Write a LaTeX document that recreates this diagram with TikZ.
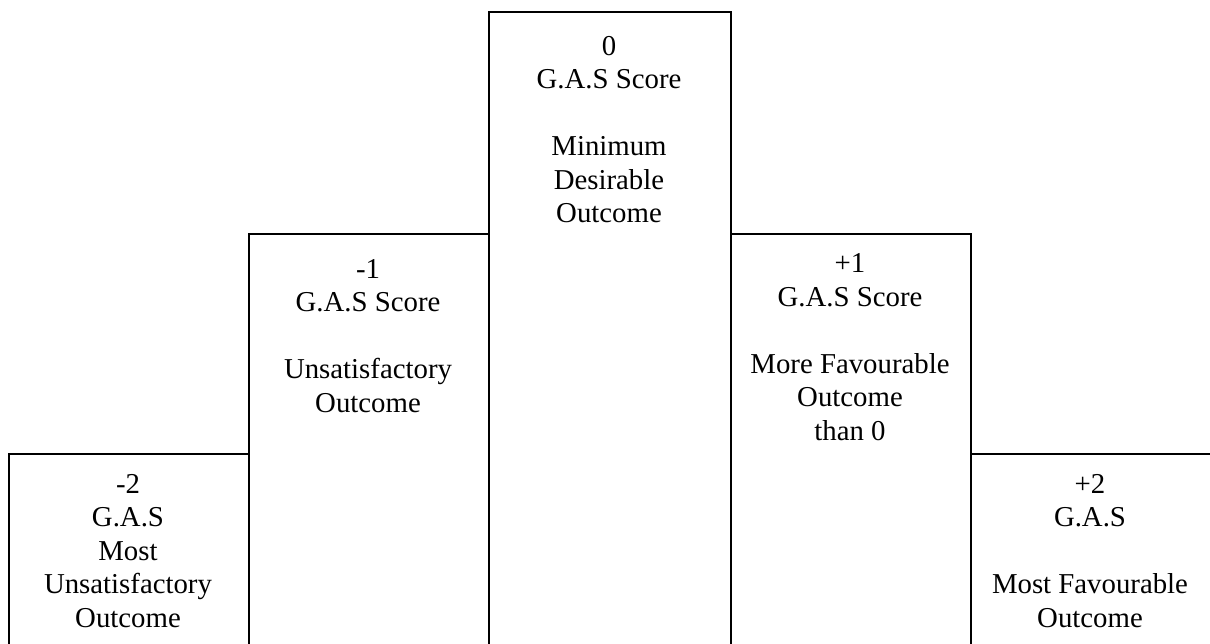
\documentclass[tikz,border=0pt]{standalone}
\usepackage{fontspec}
\setmainfont{Liberation Serif}
\begin{document}
\begin{tikzpicture}[x=1pt,y=-1pt,
  gasbox/.style={draw=black,line width=2.2pt,rectangle,anchor=north west,inner sep=0pt},
  gastext/.style={align=center,anchor=base,inner sep=0pt,font=\fontsize{28.8}{33.5}\selectfont}]
\useasboundingbox (0,0) rectangle (1210,644);
\clip (0,0) rectangle (1210,644);
\node[gasbox,minimum width=240pt,minimum height=220pt] (bm2) at (8,453) {};
\node[gasbox,minimum width=240pt,minimum height=440pt] (bm1) at (248,233) {};
\node[gasbox,minimum width=242pt,minimum height=660pt] (b0) at (488,11) {};
\node[gasbox,minimum width=240pt,minimum height=440pt] (bp1) at (730,233) {};
\node[gasbox,minimum width=260pt,minimum height=220pt] (bp2) at (970,453) {};
\node[gastext] (tm2) at (128,627) {-2\\G.A.S\\Most\\Unsatisfactory\\Outcome};
\node[gastext] (tm1) at (368,412) {-1\\G.A.S Score\\[33.5pt]Unsatisfactory\\Outcome};
\node[gastext] (t0) at (609,223) {0\\G.A.S Score\\[33.5pt]Minimum\\Desirable\\Outcome};
\node[gastext] (tp1) at (850,440) {+1\\G.A.S Score\\[33.5pt]More Favourable\\Outcome\\than 0};
\node[gastext] (tp2) at (1090,627) {+2\\G.A.S\\[33.5pt]Most Favourable\\Outcome};
\end{tikzpicture}
\end{document}
